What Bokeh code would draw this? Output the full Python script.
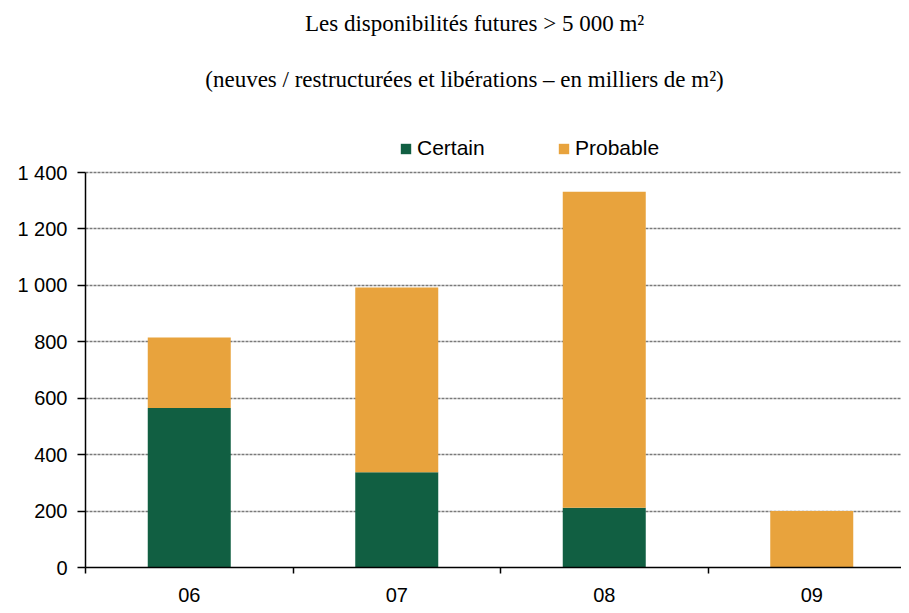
from bokeh.plotting import figure
from bokeh.models import ColumnDataSource, Range1d, FixedTicker, Legend, LegendItem, Label
from bokeh.embed import file_html
from bokeh.resources import INLINE

# ---- data ----
categories = ["06", "07", "08", "09"]
certain = [565, 338, 212, 0]
probable = [250, 654, 1120, 200]
y_ticks = [0, 200, 400, 600, 800, 1000, 1200, 1400]
y_tick_labels = ["0", "200", "400", "600", "800", "1 000", "1 200", "1 400"]
series_names = ["Certain", "Probable"]
series_colors = ["#115F42", "#E8A33D"]
title_text = "Les disponibilités futures >  5 000 m²"
subtitle_text = "(neuves / restructurées et libérations – en milliers de m²)"

# ---- layout constants (pixels) ----
W, H = 901, 605
FRAME_LEFT, FRAME_BOTTOM, AXIS_TOP_PX = 85, 567, 172
y_max_axis = y_ticks[-1]
# the frame reaches the top of the canvas so that titles and legend can sit in it;
# the value axis itself stops at its last tick
y_top = y_max_axis * FRAME_BOTTOM / (FRAME_BOTTOM - AXIS_TOP_PX)
x_end = (W - FRAME_LEFT) / 207.5

x_pos = [i + 0.5 for i in range(len(categories))]
src = ColumnDataSource(dict(x=x_pos, certain=certain, probable=probable))

p = figure(width=W, height=H, output_backend="svg", toolbar_location=None,
           x_range=Range1d(0, x_end), y_range=Range1d(0, y_top),
           min_border_left=FRAME_LEFT, min_border_right=0, min_border_top=0,
           min_border_bottom=H - FRAME_BOTTOM)
p.title_location = None
p.outline_line_color = None
p.background_fill_color = "white"
p.border_fill_color = "white"

rs = p.vbar_stack(["certain", "probable"], x="x", width=0.4, color=series_colors,
                  line_color=None, source=src)

# y axis
ya = p.yaxis[0]
ya.bounds = (0, y_max_axis)
ya.ticker = FixedTicker(ticks=y_ticks)
ya.major_label_overrides = {t: l for t, l in zip(y_ticks, y_tick_labels)}
ya.major_label_text_font = "Liberation Sans"
ya.major_label_text_font_size = "20px"
ya.major_label_text_color = "black"
ya.major_tick_out = 8
ya.major_tick_in = 0
ya.minor_tick_line_color = None
ya.major_label_standoff = 10
ya.axis_line_width = 1.5
ya.axis_line_color = "black"
ya.major_tick_line_color = "black"
ya.major_tick_line_width = 1.5

# x axis
xa = p.xaxis[0]
xa.ticker = FixedTicker(ticks=x_pos, minor_ticks=[0, 1, 2, 3])
xa.major_label_overrides = {x: c for x, c in zip(x_pos, categories)}
xa.major_label_text_font = "Liberation Sans"
xa.major_label_text_font_size = "20px"
xa.major_label_text_color = "black"
xa.major_tick_out = 0
xa.major_tick_in = 0
xa.minor_tick_out = 6
xa.minor_tick_in = 0
xa.minor_tick_line_color = "black"
xa.minor_tick_line_width = 1.5
xa.major_label_standoff = 14
xa.axis_line_width = 1.5
xa.axis_line_color = "black"

# grid
p.xgrid.grid_line_color = None
p.ygrid.ticker = FixedTicker(ticks=y_ticks[1:])
p.ygrid.grid_line_color = "#7a7a7a"
p.ygrid.grid_line_width = 1.3
p.ygrid.grid_line_dash = "3 1"

# legend
lg = Legend(items=[LegendItem(label=n, renderers=[r]) for n, r in zip(series_names, rs)])
lg.orientation = "horizontal"
lg.location = (399 - FRAME_LEFT, FRAME_BOTTOM - 160)
lg.glyph_width = 13
lg.glyph_height = 13
lg.label_standoff = 5
lg.label_width = 140
lg.spacing = 0
lg.padding = 0
lg.margin = 0
lg.border_line_color = None
lg.background_fill_alpha = 0
lg.label_text_font = "Liberation Sans"
lg.label_text_font_size = "21px"
lg.label_text_color = "black"
p.add_layout(lg)

# titles
p.add_layout(Label(x=477 - FRAME_LEFT, y=FRAME_BOTTOM - 23, x_units="screen", y_units="screen",
                   text=title_text, text_align="center", text_baseline="alphabetic",
                   text_font="Liberation Serif", text_font_size="23px", text_color="black"))
p.add_layout(Label(x=464 - FRAME_LEFT, y=FRAME_BOTTOM - 79, x_units="screen", y_units="screen",
                   text=subtitle_text, text_align="center", text_baseline="alphabetic",
                   text_font="Liberation Serif", text_font_size="23px", text_color="black"))

open("out.html", "w").write(file_html(p, INLINE))
